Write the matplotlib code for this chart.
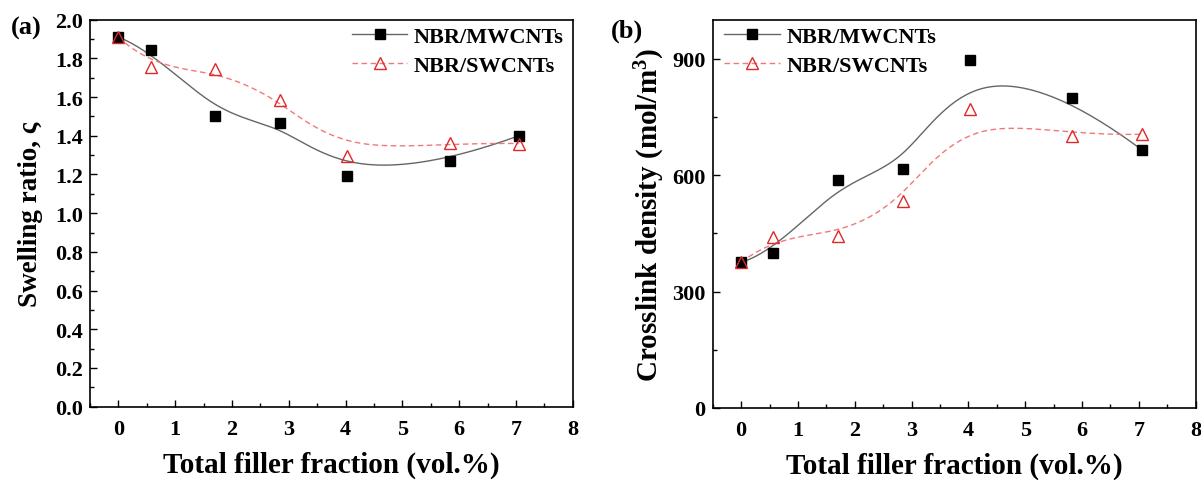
import numpy as np
import matplotlib
matplotlib.use("Agg")
import matplotlib.pyplot as plt
from matplotlib.ticker import MultipleLocator, FormatStrFormatter
from matplotlib.lines import Line2D

plt.rcParams['font.family'] = ['Liberation Serif', 'DejaVu Serif']
plt.rcParams['font.weight'] = 'bold'
plt.rcParams['mathtext.fontset'] = 'custom'
plt.rcParams['mathtext.rm'] = 'Liberation Serif:bold'
plt.rcParams['mathtext.bf'] = 'Liberation Serif:bold'

# ---- data ----
filler = [0.0, 0.57, 1.7, 2.85, 4.02, 5.83, 7.05]
swell_mw = [1.91, 1.845, 1.50, 1.465, 1.19, 1.27, 1.40]
swell_sw = [1.91, 1.755, 1.745, 1.585, 1.295, 1.365, 1.36]
cross_mw = [375, 400, 588, 615, 895, 798, 665]
cross_sw = [375, 440, 442, 533, 770, 700, 705]
label_mw = "NBR/MWCNTs"
label_sw = "NBR/SWCNTs"
xticks = [0, 1, 2, 3, 4, 5, 6, 7, 8]


def bspline(px, py, k=3, num=400):
    px = np.asarray(px, float); py = np.asarray(py, float)
    n = len(px)
    knots = np.concatenate([np.zeros(k), np.arange(n - k + 1), np.full(k, n - k)]).astype(float)
    t = np.linspace(0, n - k, num)
    t[-1] -= 1e-9

    def basis(i, p, t):
        if p == 0:
            return ((knots[i] <= t) & (t < knots[i + 1])).astype(float)
        out = np.zeros_like(t)
        d1 = knots[i + p] - knots[i]
        d2 = knots[i + p + 1] - knots[i + 1]
        if d1 > 0:
            out += (t - knots[i]) / d1 * basis(i, p - 1, t)
        if d2 > 0:
            out += (knots[i + p + 1] - t) / d2 * basis(i + 1, p - 1, t)
        return out

    B = np.array([basis(i, k, t) for i in range(n)])
    return B.T @ px, B.T @ py


fig = plt.figure(figsize=(12.01, 4.81), dpi=100)
ax1 = fig.add_axes([0.0749, 0.1524, 0.4020, 0.8046])
ax2 = fig.add_axes([0.5934, 0.1497, 0.4022, 0.8073])

mw_line = '#666666'
sw_line = '#f27878'
sw_mark = '#e02828'
TICK = 16


def style(ax, ymaj, ymin):
    ax.set_xlim(-0.5, 8)
    ax.set_xticks(xticks)
    ax.xaxis.set_minor_locator(MultipleLocator(0.5))
    ax.yaxis.set_major_locator(MultipleLocator(ymaj))
    ax.yaxis.set_minor_locator(MultipleLocator(ymin))
    ax.tick_params(which='both', direction='in', top=False, right=False, width=1.0)
    ax.tick_params(which='major', length=5, labelsize=TICK)
    ax.tick_params(axis='x', which='major', pad=9)
    ax.tick_params(axis='y', which='major', pad=5)
    ax.tick_params(which='minor', length=3)
    for s in ax.spines.values():
        s.set_linewidth(1.2)
    for lab in ax.get_xticklabels() + ax.get_yticklabels():
        lab.set_fontweight('bold')
    ax.set_xlabel("Total filler fraction (vol.%)", fontsize=21, fontweight='bold', labelpad=8)


def draw(ax, mw, sw):
    cx, cy = bspline(filler, mw)
    ax.plot(cx, cy, '-', color=mw_line, lw=1.0, zorder=2)
    cx, cy = bspline(filler, sw)
    ax.plot(cx, cy, color=sw_line, lw=1.0, dashes=(4, 2.5), zorder=2)
    ax.plot(filler, mw, 's', color='black', ms=6.5, ls='none', zorder=3)
    ax.plot(filler, sw, '^', mfc='none', mec=sw_mark, mew=1.0, ms=9, ls='none', zorder=4)
    handles = [Line2D([], [], color=mw_line, lw=1.0, marker='s', mfc='black', mec='black', ms=6.5),
               Line2D([], [], color=sw_line, lw=1.0, dashes=(4, 2.5), marker='^', mfc='none', mec=sw_mark, ms=9)]
    return handles


leg_kw = dict(frameon=False, prop={'size': 16, 'weight': 'bold'}, handlelength=2.5,
              handletextpad=0.3, labelspacing=0.35)

h = draw(ax1, swell_mw, swell_sw)
ax1.set_ylim(0, 2.0)
style(ax1, 0.2, 0.1)
ax1.yaxis.set_major_formatter(FormatStrFormatter('%.1f'))
ax1.set_ylabel("Swelling ratio, ς", fontsize=19.5, fontweight='bold', labelpad=9)
ax1.legend(h, [label_mw, label_sw], loc='upper right', bbox_to_anchor=(1.0, 1.005), borderaxespad=0.0, **leg_kw)

h = draw(ax2, cross_mw, cross_sw)
ax2.set_ylim(0, 1000)
style(ax2, 300, 150)
ax2.set_ylabel(r"Crosslink density (mol/m$\mathbf{^3}$)", fontsize=21, fontweight='bold', labelpad=4)
ax2.legend(h, [label_mw, label_sw], loc='upper left', bbox_to_anchor=(0.005, 1.005), borderaxespad=0.0, **leg_kw)

fig.text(0.009, 0.94, "(a)", fontsize=19, fontweight='bold', va='center', ha='left')
fig.text(0.509, 0.935, "(b)", fontsize=19, fontweight='bold', va='center', ha='left')

fig.savefig("out.png", dpi=100)
